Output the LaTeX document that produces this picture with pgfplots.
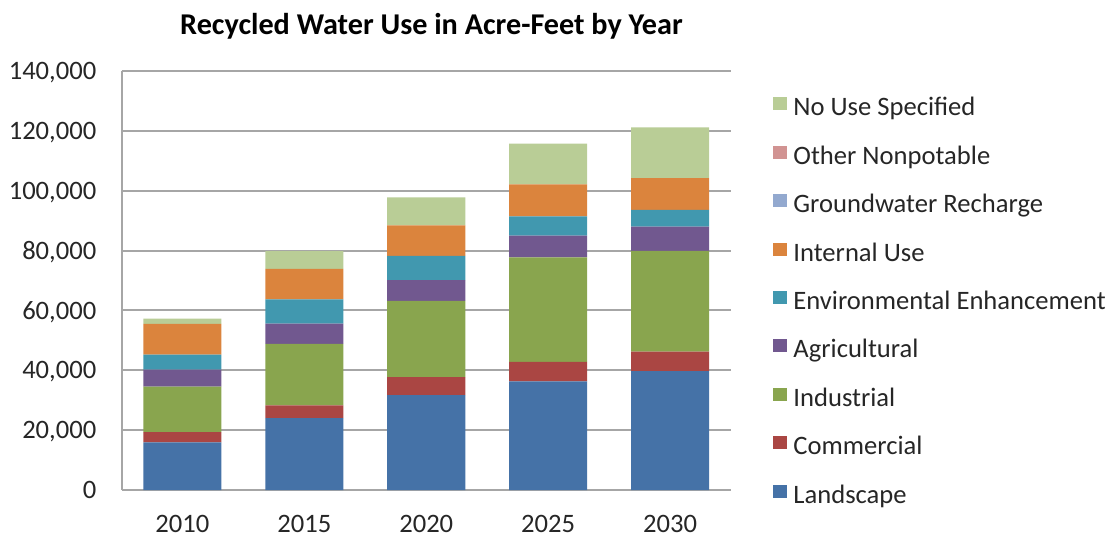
\documentclass[border=0pt]{standalone}
\usepackage{pgfplots}
\pgfplotsset{compat=1.18}
\usepackage{fontspec}
\setmainfont{Carlito}
\definecolor{cLand}{HTML}{4572A7}
\definecolor{cComm}{HTML}{AA4643}
\definecolor{cInd}{HTML}{89A54E}
\definecolor{cAgr}{HTML}{71588F}
\definecolor{cEnv}{HTML}{4198AF}
\definecolor{cInt}{HTML}{DB843D}
\definecolor{cGw}{HTML}{93A9CF}
\definecolor{cOth}{HTML}{D19392}
\definecolor{cNo}{HTML}{B9CD96}
\definecolor{gridc}{HTML}{A6A6A6}
\begin{document}
\begin{tikzpicture}
\useasboundingbox (0,0) rectangle (556pt,268pt);
\begin{axis}[
  at={(60.75pt,23pt)}, anchor=south west,
  scale only axis, width=304.75pt, height=209.5pt,
  ybar stacked, bar width=0.64,
  xmin=-0.5, xmax=4.5, ymin=0, ymax=140000,
  scaled y ticks=false,
  xtick={0,1,2,3,4}, xticklabels={\mbox{2010},\mbox{2015},\mbox{2020},\mbox{2025},\mbox{2030}},
  ytick={0,20000,40000,60000,80000,100000,120000,140000},
  yticklabels={\mbox{0},\mbox{20,000},\mbox{40,000},\mbox{60,000},\mbox{80,000},\mbox{100,000},\mbox{120,000},\mbox{140,000}},
  y tick label style={anchor=east, inner sep=0pt, xshift=-12.4pt, text depth=0pt, font=\fontsize{13.3}{15}\selectfont, text=black!85},
  x tick label style={anchor=center, inner sep=0pt, yshift=-16.8pt, text depth=0pt, font=\fontsize{13.3}{15}\selectfont, text=black!85},
  axis lines=left, axis line style={-, draw=gridc, line width=1pt},
  major tick length=0pt,
  ymajorgrids, grid style={draw=gridc, line width=1pt},
  title={Recycled Water Use in Acre-Feet by Year},
  every axis title shift=0pt,
  title style={at={(0.5086,1.086)}, anchor=base, yshift=0pt, font=\bfseries\fontsize{15.1}{18}\selectfont, inner sep=0pt},
  reverse legend,
  legend cell align=left,
  legend image code/.code={\fill[#1] (0pt,-0.2pt) rectangle (7pt,6.3pt);},
  legend style={at={(1.068,0.938)}, anchor=north west, draw=none, fill=none, inner sep=0pt,
    row sep=11.9pt, font=\fontsize{13.3}{15}\selectfont, text=black!85,
    nodes={inner sep=0pt, text height=9pt, text depth=3pt},
    /tikz/column 1/.style={column sep=3.3pt}},
]
\addplot[fill=cLand, draw=none] coordinates {(0,15900) (1,24000) (2,31700) (3,36300) (4,39700)};
\addplot[fill=cComm, draw=none] coordinates {(0,3400) (1,4300) (2,6000) (3,6500) (4,6500)};
\addplot[fill=cInd, draw=none] coordinates {(0,15200) (1,20500) (2,25500) (3,34900) (4,33700)};
\addplot[fill=cAgr, draw=none] coordinates {(0,5700) (1,6800) (2,6900) (3,7300) (4,8100)};
\addplot[fill=cEnv, draw=none] coordinates {(0,5000) (1,8100) (2,8100) (3,6400) (4,5600)};
\addplot[fill=cInt, draw=none] coordinates {(0,10300) (1,10200) (2,10200) (3,10700) (4,10600)};
\addplot[fill=cGw, draw=none] coordinates {(0,0) (1,0) (2,0) (3,0) (4,0)};
\addplot[fill=cOth, draw=none] coordinates {(0,0) (1,0) (2,0) (3,0) (4,0)};
\addplot[fill=cNo, draw=none] coordinates {(0,1800) (1,5900) (2,9400) (3,13600) (4,17000)};
\legend{Landscape,Commercial,Industrial,Agricultural,Environmental Enhancement,Internal Use,Groundwater Recharge,Other Nonpotable,No Use Specified}
\end{axis}
\end{tikzpicture}
\end{document}
